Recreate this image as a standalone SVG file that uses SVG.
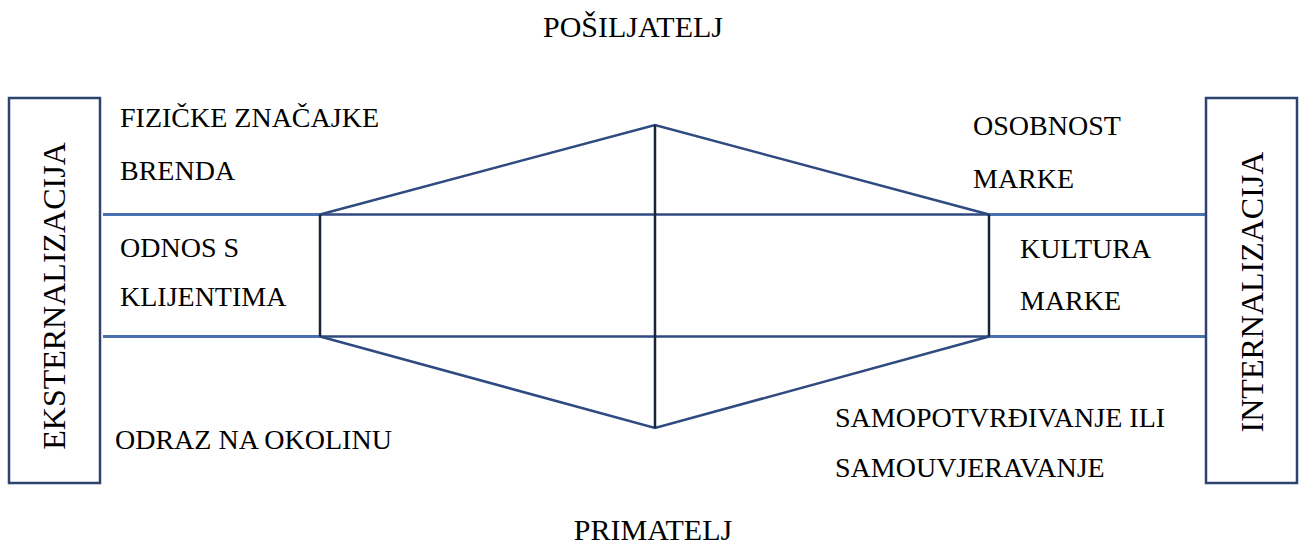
<svg xmlns="http://www.w3.org/2000/svg" width="1301" height="544" viewBox="0 0 1301 544" font-family="'Times New Roman', 'Liberation Serif', serif">
<defs>
<style>
.box{fill:#fff;stroke:#2E4470;stroke-width:2.5}
.hl{stroke:#4A70B0;stroke-width:3;fill:none}
.dl{stroke:#2F4A80;stroke-width:2.5;fill:none}
.vk{stroke:#1A2438;stroke-width:2.5;fill:none}
.lbl{font-family:"Times New Roman","Liberation Serif",serif;font-size:28px;fill:#000}
.big{font-family:"Times New Roman","Liberation Serif",serif;font-size:30px;fill:#000}
.vert{font-family:"Times New Roman","Liberation Serif",serif;font-size:32px;fill:#000}
</style>
</defs>
<rect width="1301" height="544" fill="#fff"/>
<g id="connectors">
<line class="hl" x1="103" y1="214.5" x2="320" y2="214.5"/>
<line class="hl" x1="103" y1="336.5" x2="320" y2="336.5"/>
<line class="hl" x1="989" y1="214.5" x2="1205" y2="214.5"/>
<line class="hl" x1="989" y1="336.5" x2="1205" y2="336.5"/>
<polyline class="dl" points="320,214.5 655,125 989,214.5"/>
<polyline class="dl" points="320,336.5 655,428 989,336.5"/>
<line class="dl" x1="320" y1="214.5" x2="989" y2="214.5"/>
<line class="dl" x1="320" y1="336.5" x2="989" y2="336.5"/>
<line class="vk" x1="320" y1="214.5" x2="320" y2="336.5"/>
<line class="vk" x1="989" y1="214.5" x2="989" y2="336.5"/>
<line class="vk" x1="655" y1="125" x2="655" y2="428"/>
</g>
<g id="ekst">
<rect class="box" x="9" y="98" width="91" height="385"/>
<text class="vert" transform="translate(65,296) rotate(-90)" text-anchor="middle">EKSTERNALIZACIJA</text>
</g>
<g id="int">
<rect class="box" x="1206" y="98" width="91" height="385"/>
<text class="vert" transform="translate(1263,292) rotate(-90)" text-anchor="middle">INTERNALIZACIJA</text>
</g>
<g id="posiljatelj"><text class="big" x="633" y="37" text-anchor="middle">POŠILJATELJ</text></g>
<g id="primatelj"><text class="big" x="653" y="540" text-anchor="middle">PRIMATELJ</text></g>
<g id="fizicke"><text class="lbl" x="120" y="127">FIZIČKE ZNAČAJKE</text><text class="lbl" x="120" y="180">BRENDA</text></g>
<g id="odnos"><text class="lbl" x="120" y="257">ODNOS S</text><text class="lbl" x="120" y="306">KLIJENTIMA</text></g>
<g id="odraz"><text class="lbl" x="115" y="449">ODRAZ NA OKOLINU</text></g>
<g id="osobnost"><text class="lbl" x="973" y="135">OSOBNOST</text><text class="lbl" x="973" y="188">MARKE</text></g>
<g id="kultura"><text class="lbl" x="1020" y="258">KULTURA</text><text class="lbl" x="1020" y="310">MARKE</text></g>
<g id="samo"><text class="lbl" x="835" y="427">SAMOPOTVRĐIVANJE ILI</text><text class="lbl" x="835" y="477">SAMOUVJERAVANJE</text></g>
</svg>
